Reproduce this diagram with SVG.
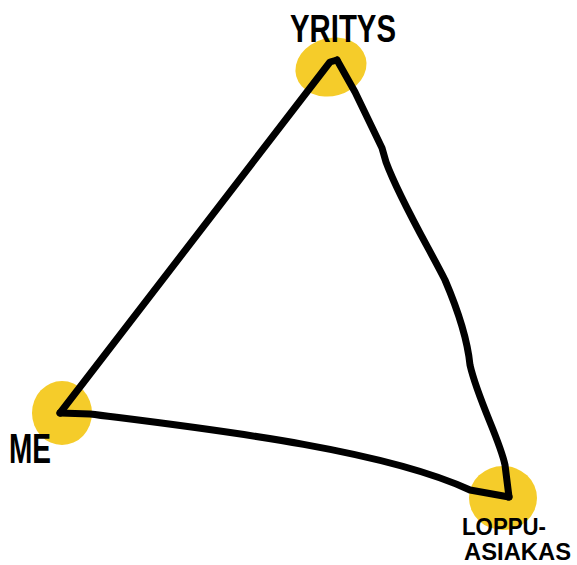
<svg xmlns="http://www.w3.org/2000/svg" width="577" height="565" viewBox="0 0 577 565">
<style>
.blob{fill:#F5CC2A}
.lbl{font-family:"Liberation Sans",Arial,sans-serif;font-weight:bold;fill:#000}
.edge{fill:none;stroke:#000;stroke-width:7;stroke-linecap:round;stroke-linejoin:round}
</style>
<rect width="577" height="565" fill="#fff"/>
<g id="node-yritys">
<ellipse class="blob" cx="331" cy="67" rx="36" ry="29" transform="rotate(-15 331 67)"/>
<text class="lbl" x="290" y="42" font-size="38" textLength="106" lengthAdjust="spacingAndGlyphs">YRITYS</text>
</g>
<g id="node-me">
<ellipse class="blob" cx="62" cy="413" rx="30" ry="32"/>
<text class="lbl" x="9" y="463" font-size="43" textLength="42" lengthAdjust="spacingAndGlyphs">ME</text>
</g>
<g id="node-loppuasiakas">
<ellipse class="blob" cx="503" cy="498" rx="34" ry="32"/>
<text class="lbl" x="462" y="535" font-size="23" textLength="84" lengthAdjust="spacingAndGlyphs">LOPPU-</text>
<text class="lbl" x="464" y="560" font-size="23" textLength="107" lengthAdjust="spacingAndGlyphs">ASIAKAS</text>
</g>
<g id="connectors">
<path class="edge" d="M337,60 L330,62 L60,413"/>
<path class="edge" d="M60,413 L90,414 C200,428 380,448 470,490 L509,497"/>
<path class="edge" d="M337,60 L355,92 L382,148 L386,162 C400,200 430,250 445,280 C460,315 468,345 470,365 C478,400 500,440 505,465 L509,497"/>
</g>
</svg>
